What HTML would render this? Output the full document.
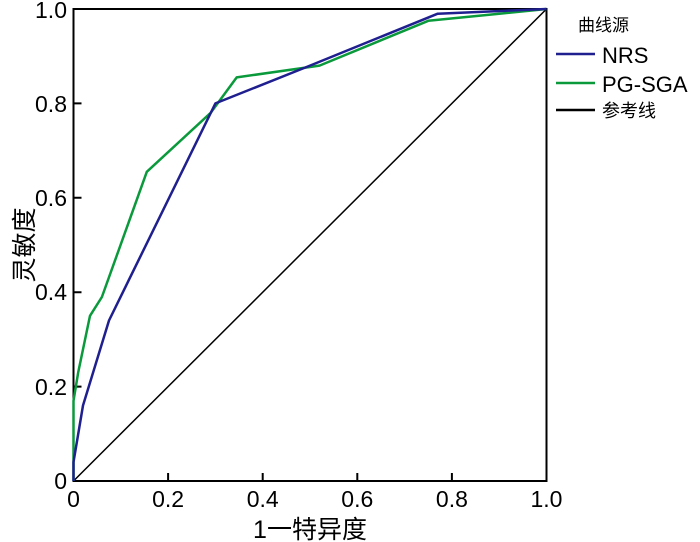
<!DOCTYPE html>
<html><head><meta charset="utf-8"><style>body{margin:0;background:#fff}svg{display:block}</style></head>
<body>
<svg width="700" height="542" viewBox="0 0 700 542" xmlns="http://www.w3.org/2000/svg" font-family="Liberation Sans, Noto Sans CJK SC, sans-serif">
<g stroke="#000" stroke-width="2" fill="none">
<path d="M73.5,9 H546.5 V481 H73.5 Z"/>
<path d="M168.1,481 v-8 M262.7,481 v-8 M357.3,481 v-8 M451.9,481 v-8"/>
<path d="M73.5,386.6 h8 M73.5,292.2 h8 M73.5,197.8 h8 M73.5,103.4 h8"/>
</g>
<line x1="73.5" y1="481" x2="546.5" y2="9" stroke="#000" stroke-width="1.5"/>
<polyline fill="none" stroke="#0a9a3c" stroke-width="2.5" stroke-linejoin="round" points="73.5,481 73.5,400.8 78.2,372.4 90,315.8 101.9,297 146.8,171.8 210.7,112.8 236.7,77.4 319.5,65.6 428.3,20.8 499.2,13.7 546.5,9"/>
<polyline fill="none" stroke="#1f1f8f" stroke-width="2.5" stroke-linejoin="round" points="73.5,481 73.5,462.1 83,405.5 109,320.5 215.4,103.4 310,65.6 437.7,13.7 546.5,9"/>
<g font-size="23" text-anchor="end">
<text x="67" y="489">0</text><text x="67" y="395">0.2</text><text x="67" y="300">0.4</text><text x="67" y="206">0.6</text><text x="67" y="112">0.8</text><text x="67" y="18">1.0</text>
</g>
<g font-size="23" text-anchor="middle">
<text x="73.5" y="507">0</text><text x="168.1" y="507">0.2</text><text x="262.7" y="507">0.4</text><text x="357.3" y="507">0.6</text><text x="451.9" y="507">0.8</text><text x="546.5" y="507">1.0</text>
</g>
<text x="310" y="538" font-size="25" text-anchor="middle">1一特异度</text>
<text transform="translate(33,245) rotate(-90)" font-size="25" text-anchor="middle">灵敏度</text>
<text x="578" y="31" font-size="17">曲线源</text>
<line x1="556" y1="54" x2="595" y2="54" stroke="#1f1f8f" stroke-width="2.5"/>
<line x1="556" y1="83" x2="595" y2="83" stroke="#0a9a3c" stroke-width="2.5"/>
<line x1="556" y1="110" x2="595" y2="110" stroke="#000" stroke-width="2.5"/>
<text x="602" y="63" font-size="22">NRS</text>
<text x="602" y="92" font-size="22">PG-SGA</text>
<text x="602" y="117" font-size="18">参考线</text>
</svg>
</body></html>
